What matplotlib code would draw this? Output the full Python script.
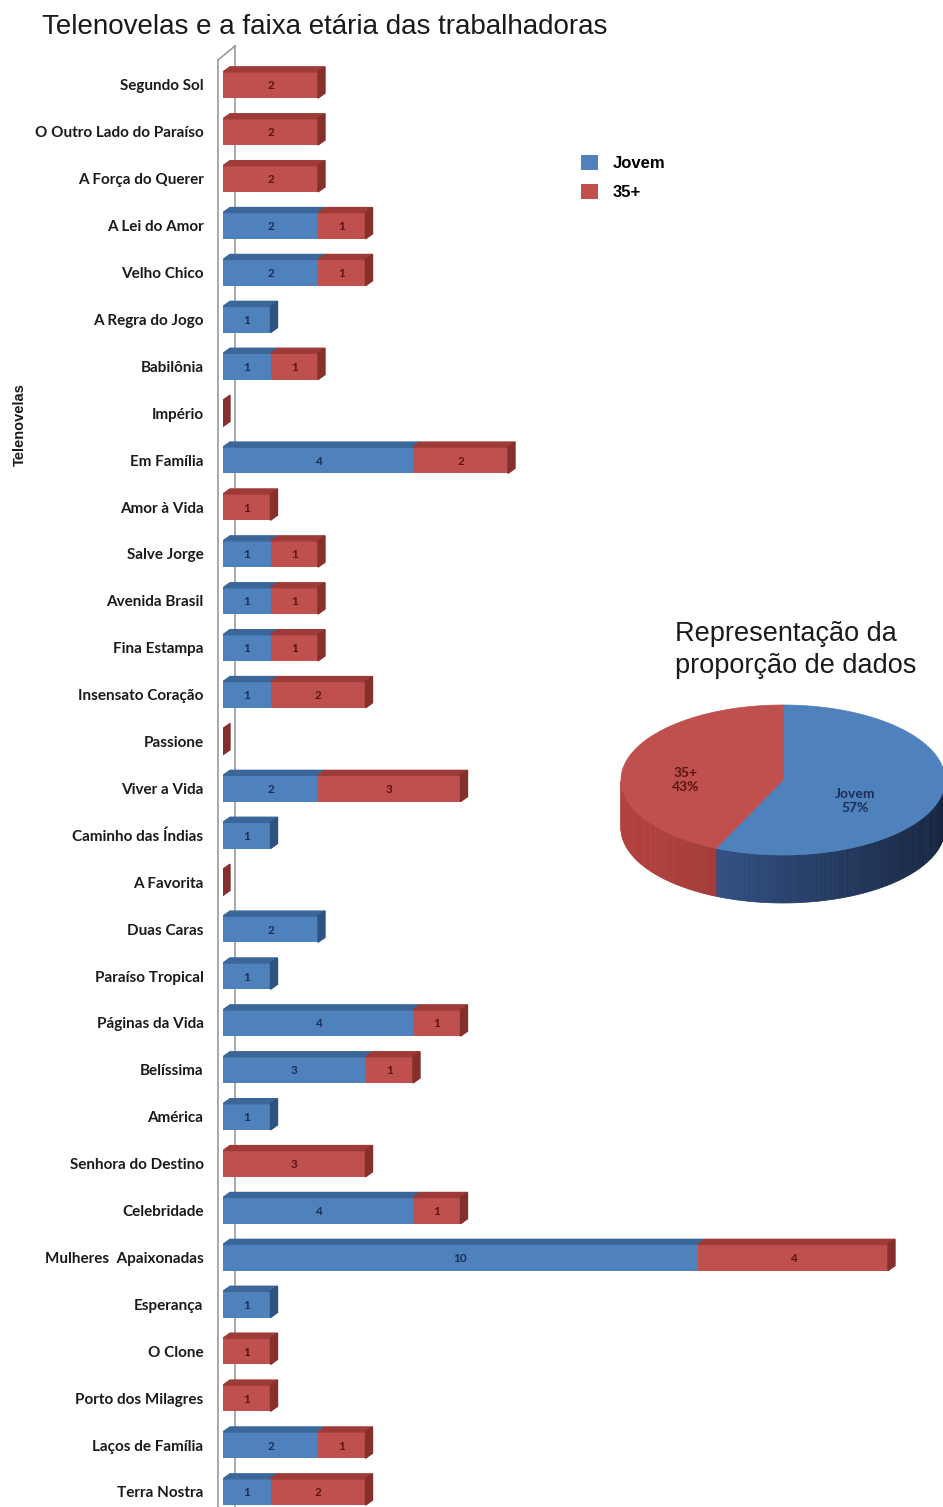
import numpy as np
import matplotlib.pyplot as plt
from matplotlib.patches import Polygon, Patch
from matplotlib.colors import to_rgb

# dados do gráfico
novelas = ["Segundo Sol", "O Outro Lado do Paraíso", "A Força do Querer", "A Lei do Amor",
           "Velho Chico", "A Regra do Jogo", "Babilônia", "Império", "Em Família",
           "Amor à Vida", "Salve Jorge", "Avenida Brasil", "Fina Estampa",
           "Insensato Coração", "Passione", "Viver a Vida", "Caminho das Índias",
           "A Favorita", "Duas Caras", "Paraíso Tropical", "Páginas da Vida", "Belíssima",
           "América", "Senhora do Destino", "Celebridade", "Mulheres  Apaixonadas",
           "Esperança", "O Clone", "Porto dos Milagres", "Laços de Família", "Terra Nostra"]
jovem = [0, 0, 0, 2, 2, 1, 1, 0, 4, 0, 1, 1, 1, 1, 0, 2, 1, 0, 2, 1, 4, 3, 1, 0, 4, 10, 1, 0, 0, 2, 1]
mais35 = [2, 2, 2, 1, 1, 0, 1, 0, 2, 1, 1, 1, 1, 2, 0, 3, 0, 0, 0, 0, 1, 1, 0, 3, 1, 4, 0, 1, 1, 1, 2]
series = ["Jovem", "35+"]

# cores (frente, topo, lateral, texto)
cores = {
    "Jovem": ("#4F81BD", "#3B6699", "#2E5383", "#1F2D55"),
    "35+": ("#C0504D", "#9E3A37", "#85302D", "#5A1414"),
}

W, H = 943, 1507
fig = plt.figure(figsize=(W / 100, H / 100), dpi=100, facecolor="white")

# ---- gráfico de barras "3D" ----
unit = 47.5
row = 46.9
ax = fig.add_axes([223 / W, 0, (W - 223) / W, (H - 62) / H])
ax.set_xlim(0, (W - 223) / unit)
ax.set_ylim((H - 85) / row, (62 - 85) / row)
for s in ax.spines.values():
    s.set_visible(False)

dx = 7 / unit
dy = 5 / row
h = 0.56

# parede lateral
cinza = "#9a9a9a"
ax.plot([-5 / unit, -5 / unit], [(60 - 85) / row, 40], color=cinza, lw=1.2, zorder=1, clip_on=False)
ax.plot([12 / unit, 12 / unit], [(46 - 85) / row, 40], color=cinza, lw=1.2, zorder=1, clip_on=False)
ax.plot([-5 / unit, 12 / unit], [(60 - 85) / row, (46 - 85) / row], color=cinza, lw=1.2, zorder=1, clip_on=False)

y = np.arange(len(novelas))
left = np.zeros(len(novelas))
for nome, vals in zip(series, [jovem, mais35]):
    vals = np.array(vals, dtype=float)
    frente, topo, lado, txt = cores[nome]
    ax.barh(y, vals, left=left, height=h, color=frente, zorder=3)
    for i, v in enumerate(vals):
        if v <= 0:
            continue
        x0, x1 = left[i], left[i] + v
        yt = i - h / 2
        ax.add_patch(Polygon([(x0, yt), (x1, yt), (x1 + dx, yt - dy), (x0 + dx, yt - dy)],
                             closed=True, color=topo, zorder=3))
        ax.text((x0 + x1) / 2, i + 0.02, f"{int(v)}", ha="center", va="center",
                fontsize=8.5, fontweight="bold", color=txt, family="Lato", zorder=5)
    left = left + vals

# face lateral no fim de cada barra
for i, tot in enumerate(left):
    ultimo = "35+" if mais35[i] > 0 or tot == 0 else "Jovem"
    lado = cores[ultimo][2]
    yt, yb = i - h / 2, i + h / 2
    ax.add_patch(Polygon([(tot, yt), (tot + dx, yt - dy), (tot + dx, yb - dy), (tot, yb)],
                         closed=True, color=lado, zorder=4))

ax.set_xticks([])
ax.set_yticks(y)
ax.set_yticklabels(novelas, family="Lato", fontweight="bold", fontsize=11, color="#1a1a1a")
ax.tick_params(axis="y", length=0, pad=14)

fig.text(42 / W, 1 - 27 / H, "Telenovelas e a faixa etária das trabalhadoras",
         fontsize=20, family="Liberation Sans", color="#1a1a1a", va="center", ha="left")
fig.text(20 / W, 1 - 425 / H, "Telenovelas", rotation=90, fontsize=10.5, fontweight="bold",
         family="Liberation Sans", va="center", ha="center", color="#1a1a1a")

handles = [Patch(facecolor=cores[s][0]) for s in series]
fig.legend(handles, series, loc="upper left", bbox_to_anchor=(566 / W, 1 - 140 / H),
           frameon=False, handlelength=1.0, handleheight=1.0, labelspacing=0.75,
           handletextpad=0.9, prop={"family": "Liberation Sans", "weight": "bold", "size": 12})

# ---- pizza "3D" ----
totais = [sum(jovem), sum(mais35)]
total = sum(totais)
pax = fig.add_axes([600 / W, 1 - 930 / H, (W - 600) / W, 240 / H])
pax.set_xlim(600, W)
pax.set_ylim(930, 690)
pax.axis("off")

cx, cy, a, b, prof = 783, 780, 162, 75, 48


def pt(t):
    return cx + a * np.cos(t), cy - b * np.sin(t)


angs = [np.pi / 2]
for v in totais:
    angs.append(angs[-1] - 2 * np.pi * v / total)

grad = {"Jovem": ("#3D62A0", "#172640"), "35+": ("#B4423F", "#7E2926")}
for k, nome in enumerate(series):
    t_ini, t_fim = angs[k + 1], angs[k]
    # parte visível da lateral (metade de baixo)
    tt = np.linspace(t_ini, t_fim, 200)
    tt = tt[np.sin(tt) <= 0.001]
    if len(tt) > 1:
        c0 = np.array(to_rgb(grad[nome][0]))
        c1 = np.array(to_rgb(grad[nome][1]))
        for j in range(len(tt) - 1):
            xa, ya = pt(tt[j])
            xb, yb = pt(tt[j + 1])
            f = ((xa + xb) / 2 - (cx - a)) / (2 * a)
            cor = c0 + (c1 - c0) * f
            pax.add_patch(Polygon([(xa, ya), (xb, yb), (xb, yb + prof), (xa, ya + prof)],
                                  closed=True, facecolor=cor, edgecolor=cor, lw=0.5, zorder=2))
    # face de cima
    tt = np.linspace(t_ini, t_fim, 200)
    pts = [(cx, cy)] + [pt(t) for t in tt]
    pax.add_patch(Polygon(pts, closed=True, facecolor=cores[nome][0], edgecolor=cores[nome][0],
                          lw=0.5, zorder=3))

fig.text(675 / W, 1 - 650 / H, "Representação da\nproporção de dados", fontsize=19.5,
         family="Liberation Sans", color="#1a1a1a", va="center", ha="left", linespacing=1.3)

pos_rot = {"Jovem": (855, 801), "35+": (686, 780)}
for nome, v in zip(series, totais):
    pax.text(*pos_rot[nome], f"{nome}\n{round(100 * v / total)}%", ha="center", va="center",
             fontsize=10, fontweight="bold", family="Lato", color=cores[nome][3], zorder=5,
             linespacing=1.2)

fig.savefig("out.png", dpi=100, facecolor="white")
